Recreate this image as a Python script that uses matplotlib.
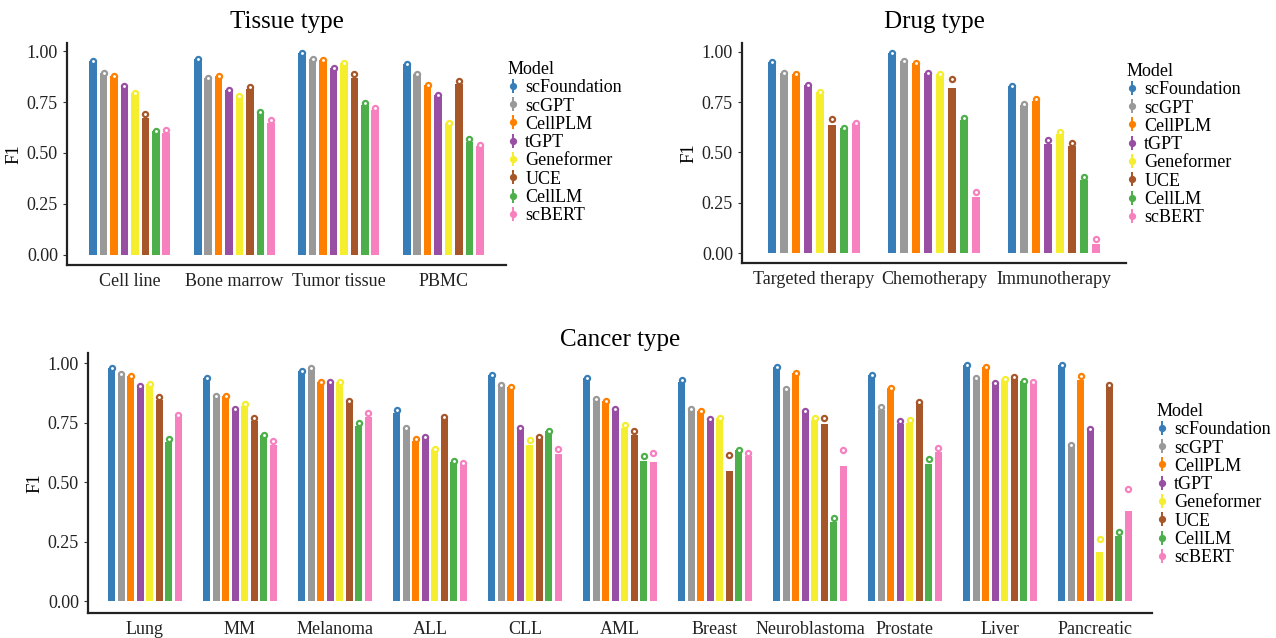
import numpy as np
import matplotlib
matplotlib.use("Agg")
import matplotlib.pyplot as plt
from matplotlib.lines import Line2D
from matplotlib.legend_handler import HandlerTuple

plt.rcParams["font.family"] = ["Liberation Serif", "DejaVu Serif"]

models = ["scFoundation", "scGPT", "CellPLM", "tGPT", "Geneformer", "UCE", "CellLM", "scBERT"]
colors = ["#377EB8", "#999999", "#FF7F00", "#984EA3", "#F4EE2E", "#A65628", "#4DAF4A", "#F781BF"]

# ---- Tissue type ----
tissue_categories = ["Cell line", "Bone marrow", "Tumor tissue", "PBMC"]
tissue_bar = [
    [0.950, 0.890, 0.880, 0.830, 0.795, 0.670, 0.610, 0.600],
    [0.962, 0.869, 0.876, 0.810, 0.779, 0.815, 0.700, 0.646],
    [0.990, 0.962, 0.957, 0.917, 0.941, 0.869, 0.733, 0.712],
    [0.938, 0.889, 0.835, 0.786, 0.648, 0.840, 0.553, 0.535],
]
tissue_point = [
    [0.950, 0.890, 0.880, 0.830, 0.795, 0.690, 0.610, 0.614],
    [0.962, 0.869, 0.876, 0.810, 0.779, 0.825, 0.700, 0.660],
    [0.990, 0.962, 0.957, 0.917, 0.941, 0.889, 0.743, 0.720],
    [0.938, 0.889, 0.835, 0.786, 0.648, 0.854, 0.568, 0.540],
]

# ---- Drug type ----
drug_categories = ["Targeted therapy", "Chemotherapy", "Immunotherapy"]
drug_bar = [
    [0.950, 0.895, 0.890, 0.835, 0.800, 0.635, 0.620, 0.648],
    [0.995, 0.955, 0.945, 0.895, 0.890, 0.820, 0.663, 0.279],
    [0.833, 0.735, 0.758, 0.542, 0.594, 0.531, 0.362, 0.045],
]
drug_point = [
    [0.950, 0.895, 0.890, 0.835, 0.800, 0.668, 0.620, 0.648],
    [0.995, 0.955, 0.945, 0.895, 0.890, 0.864, 0.673, 0.303],
    [0.833, 0.740, 0.766, 0.564, 0.600, 0.549, 0.376, 0.070],
]

# ---- Cancer type ----
cancer_categories = ["Lung", "MM", "Melanoma", "ALL", "CLL", "AML", "Breast",
                     "Neuroblastoma", "Prostate", "Liver", "Pancreatic"]
cancer_bar = [
    [0.980, 0.955, 0.945, 0.905, 0.915, 0.845, 0.669, 0.775],
    [0.940, 0.862, 0.862, 0.810, 0.820, 0.757, 0.700, 0.655],
    [0.970, 0.980, 0.922, 0.922, 0.922, 0.842, 0.735, 0.775],
    [0.792, 0.730, 0.675, 0.690, 0.640, 0.775, 0.585, 0.575],
    [0.950, 0.910, 0.902, 0.720, 0.658, 0.680, 0.714, 0.618],
    [0.940, 0.849, 0.842, 0.810, 0.728, 0.700, 0.590, 0.587],
    [0.920, 0.810, 0.800, 0.760, 0.770, 0.547, 0.635, 0.612],
    [0.985, 0.891, 0.958, 0.800, 0.764, 0.745, 0.332, 0.569],
    [0.952, 0.806, 0.898, 0.745, 0.750, 0.837, 0.578, 0.627],
    [0.994, 0.940, 0.985, 0.919, 0.933, 0.936, 0.926, 0.912],
    [0.994, 0.655, 0.929, 0.726, 0.208, 0.910, 0.276, 0.378],
]
cancer_point = [
    [0.980, 0.955, 0.945, 0.905, 0.915, 0.860, 0.680, 0.785],
    [0.940, 0.862, 0.862, 0.810, 0.830, 0.771, 0.700, 0.672],
    [0.970, 0.980, 0.922, 0.922, 0.922, 0.842, 0.750, 0.790],
    [0.803, 0.730, 0.680, 0.690, 0.640, 0.775, 0.590, 0.580],
    [0.950, 0.910, 0.902, 0.730, 0.676, 0.689, 0.714, 0.640],
    [0.940, 0.849, 0.842, 0.810, 0.740, 0.714, 0.610, 0.625],
    [0.929, 0.810, 0.800, 0.768, 0.770, 0.615, 0.635, 0.624],
    [0.985, 0.891, 0.958, 0.800, 0.771, 0.770, 0.350, 0.635],
    [0.952, 0.818, 0.898, 0.757, 0.764, 0.837, 0.600, 0.645],
    [0.994, 0.940, 0.985, 0.919, 0.933, 0.943, 0.926, 0.923],
    [0.994, 0.655, 0.948, 0.726, 0.262, 0.910, 0.290, 0.471],
]

W, H = 1276, 638
fig = plt.figure(figsize=(W / 100, H / 100), dpi=100)


def px_axes(left, right, top, bottom):
    return fig.add_axes([left / W, 1 - bottom / H, (right - left) / W, (bottom - top) / H])


def draw_panel(ax, categories, bars, points, title, title_y):
    n_cat = len(categories)
    n_mod = len(models)
    dodge = 0.8
    slot = dodge / n_mod
    bars = np.asarray(bars)
    points = np.asarray(points)
    for j in range(n_mod):
        xs = np.arange(1, n_cat + 1) - dodge / 2 + slot * (j + 0.5)
        ax.bar(xs, bars[:, j], width=slot * 0.74, color=colors[j], linewidth=0, zorder=2)
        ax.plot(xs, points[:, j], linestyle="none", marker="o", markersize=3.7,
                markerfacecolor="white", markeredgecolor=colors[j],
                markeredgewidth=1.6, zorder=3)
    ymax = max(bars.max(), points.max())
    ax.set_ylim(-0.05 * ymax, 1.05 * ymax)
    ax.set_xlim(0.4, n_cat + 0.6)
    ax.set_xticks(np.arange(1, n_cat + 1))
    ax.set_xticklabels(categories)
    ax.set_yticks([0, 0.25, 0.5, 0.75, 1.0])
    ax.set_yticklabels(["0.00", "0.25", "0.50", "0.75", "1.00"])
    ax.set_ylabel("F1", fontsize=13.5, labelpad=3)
    bb = ax.get_position()
    fig.text((bb.x0 + bb.x1) / 2, 1 - title_y / H, title, fontsize=18,
             ha="center", va="center")
    for s in ("top", "right"):
        ax.spines[s].set_visible(False)
    for s in ("left", "bottom"):
        ax.spines[s].set_linewidth(1.6)
        ax.spines[s].set_color("#222222")
    ax.tick_params(axis="both", length=3, width=0.8, color="#333333",
                   labelsize=13, labelcolor="#222222")
    ax.tick_params(axis="x", length=0, pad=6)


def add_legend(x, y):
    handles = []
    for c in colors:
        stem = Line2D([], [], color=c, marker="|", markersize=10, markeredgewidth=1.4,
                      linestyle="none")
        dot = Line2D([], [], color=c, marker="o", markersize=4.2, linestyle="none")
        handles.append((stem, dot))
    leg = fig.legend(handles, models, loc="upper left", bbox_to_anchor=(x / W, 1 - y / H),
                     frameon=False, title="Model", fontsize=13, title_fontsize=13,
                     handler_map={tuple: HandlerTuple(ndivide=1, pad=0)},
                     handlelength=0.6, handletextpad=0.35, labelspacing=0.07,
                     borderaxespad=0, borderpad=0, alignment="left")
    return leg


ax1 = px_axes(67, 506, 43, 265)
draw_panel(ax1, tissue_categories, tissue_bar, tissue_point, "Tissue type", 22)
add_legend(508, 61)

ax2 = px_axes(742, 1126, 43, 263)
draw_panel(ax2, drug_categories, drug_bar, drug_point, "Drug type", 22)
add_legend(1127, 63)

ax3 = px_axes(88, 1152, 353, 613)
draw_panel(ax3, cancer_categories, cancer_bar, cancer_point, "Cancer type", 340)
add_legend(1157, 403)

fig.savefig("out.png", dpi=100, facecolor="white")
